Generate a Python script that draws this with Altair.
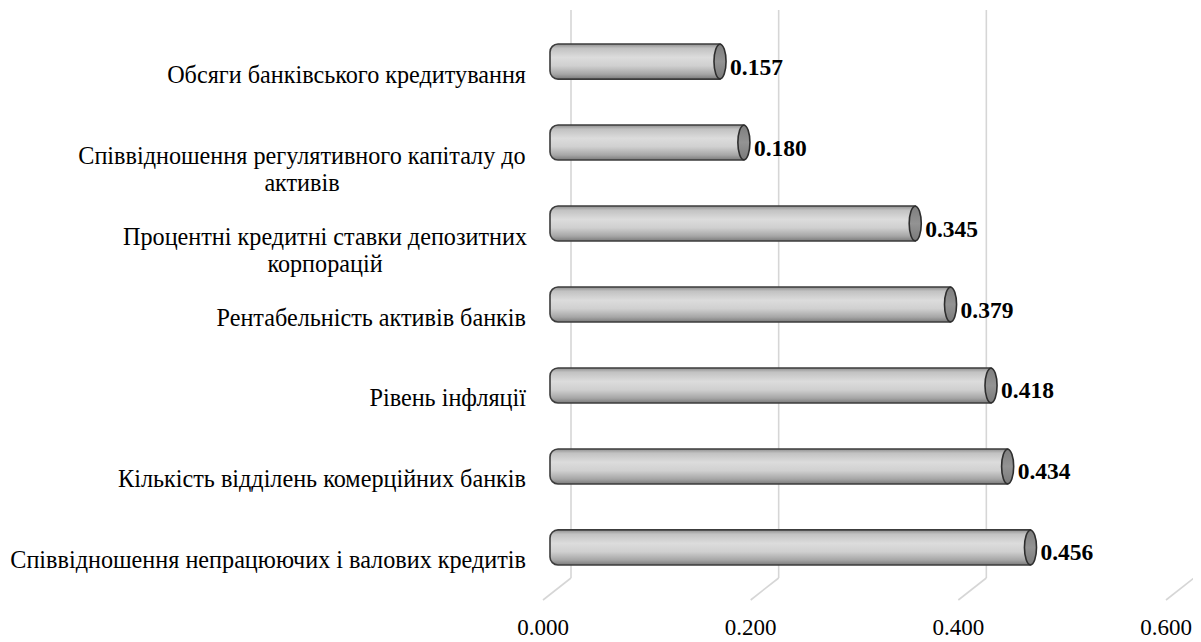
import altair as alt
import pandas as pd

categories = [
    "Обсяги банківського кредитування",
    "Співвідношення регулятивного капіталу до активів",
    "Процентні кредитні ставки депозитних корпорацій",
    "Рентабельність активів банків",
    "Рівень інфляції",
    "Кількість відділень комерційних банків",
    "Співвідношення непрацюючих і валових кредитів",
]
label_line1 = [
    "Обсяги банківського кредитування",
    "Співвідношення регулятивного капіталу до",
    "Процентні кредитні ставки депозитних",
    "Рентабельність активів банків",
    "Рівень інфляції",
    "Кількість відділень комерційних банків",
    "Співвідношення непрацюючих і валових кредитів",
]
label_line2 = ["", "активів", "корпорацій", "", "", "", ""]
values = [0.157, 0.180, 0.345, 0.379, 0.418, 0.434, 0.456]
value_labels = ["0.157", "0.180", "0.345", "0.379", "0.418", "0.434", "0.456"]
ticks = [0.0, 0.2, 0.4, 0.6]
tick_labels = ["0.000", "0.200", "0.400", "0.600"]

df = pd.DataFrame({
    "category": categories,
    "line1": label_line1,
    "line2": label_line2,
    "full": [a + ("\n" + b if b else "") for a, b in zip(label_line1, label_line2)],
    "value": values,
    "vlabel": value_labels,
})
tdf = pd.DataFrame({"tick": ticks, "tlabel": tick_labels})

FONT = "Liberation Serif"
W, H = 623, 589
LFS = 24.2

xs = alt.Scale(domain=[0, 0.6], nice=False, zero=True)
ys = alt.Scale(domain=categories, paddingInner=0.567, paddingOuter=0.42)

base = alt.Chart(df)
tbase = alt.Chart(tdf)

grid_v = tbase.mark_rule(color="#d6d6d6", strokeWidth=1.6, xOffset=14).encode(
    x=alt.X("tick:Q", scale=xs, axis=None),
    y=alt.value(0),
    y2=alt.value(568),
)
grid_s = tbase.mark_rule(color="#d6d6d6", strokeWidth=1.6, xOffset=14, x2Offset=-14).encode(
    x=alt.X("tick:Q", scale=xs, axis=None),
    x2="tick:Q",
    y=alt.value(568),
    y2=alt.value(590),
)
tick_text = tbase.mark_text(font=FONT, fontSize=23, color="#000000", dx=-14,
                            align="center", baseline="middle").encode(
    x=alt.X("tick:Q", scale=xs, axis=None),
    y=alt.value(618),
    text="tlabel:N",
)

grad = alt.Gradient(
    gradient="linear", x1=0, y1=0, x2=0, y2=1,
    stops=[
        alt.GradientStop(offset=0.0, color="#8e8e8e"),
        alt.GradientStop(offset=0.12, color="#c2c2c2"),
        alt.GradientStop(offset=0.38, color="#dcdcdc"),
        alt.GradientStop(offset=0.62, color="#d0d0d0"),
        alt.GradientStop(offset=0.86, color="#a6a6a6"),
        alt.GradientStop(offset=1.0, color="#7a7a7a"),
    ],
)

bars = base.mark_bar(fill=grad, stroke="#3c3c3c", strokeWidth=1.6,
                     cornerRadiusTopLeft=8, cornerRadiusBottomLeft=8,
                     x2Offset=-7).encode(
    y=alt.Y("category:N", scale=ys, axis=None, sort=categories),
    x=alt.X("value:Q", scale=xs, axis=None),
    x2=alt.datum(0),
)

cap_grad = alt.Gradient(
    gradient="linear", x1=0, y1=0, x2=0, y2=1,
    stops=[
        alt.GradientStop(offset=0.0, color="#7e7e7e"),
        alt.GradientStop(offset=0.5, color="#939393"),
        alt.GradientStop(offset=1.0, color="#7a7a7a"),
    ],
)
caps = base.mark_point(
    shape="M0,-1A0.35,1,0,1,1,0,1A0.35,1,0,1,1,0,-1Z",
    size=1190, filled=True, fill=cap_grad, stroke="#2e2e2e", strokeWidth=1.6, opacity=1,
).encode(
    y=alt.Y("category:N", scale=ys, axis=None, sort=categories),
    x=alt.X("value:Q", scale=xs, axis=None),
)

vtext = base.mark_text(font=FONT, fontSize=23.5, fontWeight="bold", color="#000000",
                       align="left", baseline="middle", dx=10, dy=6).encode(
    y=alt.Y("category:N", scale=ys, axis=None, sort=categories),
    x=alt.X("value:Q", scale=xs, axis=None),
    text="vlabel:N",
)

single = base.transform_filter(alt.datum.line2 == "").mark_text(
    font=FONT, fontSize=LFS, color="#000000", align="right", baseline="middle", dy=14
).encode(
    y=alt.Y("category:N", scale=ys, axis=None, sort=categories),
    x=alt.value(-31),
    text="line1:N",
)

two_a = base.transform_filter(alt.datum.category == categories[1]).mark_text(
    font=FONT, fontSize=LFS, color="#000000", align="center", baseline="middle",
    dy=14, lineBreak="\n", lineHeight=27
).encode(
    y=alt.Y("category:N", scale=ys, axis=None, sort=categories),
    x=alt.value(-255),
    text="full:N",
)
two_b = base.transform_filter(alt.datum.category == categories[2]).mark_text(
    font=FONT, fontSize=LFS, color="#000000", align="center", baseline="middle",
    dy=14, lineBreak="\n", lineHeight=27
).encode(
    y=alt.Y("category:N", scale=ys, axis=None, sort=categories),
    x=alt.value(-232),
    text="full:N",
)

chart = alt.layer(
    grid_v, grid_s, tick_text, bars, caps, vtext, single, two_a, two_b
).properties(
    width=W, height=H,
    padding={"left": 549, "top": 2, "right": 13, "bottom": 40},
    autosize=alt.AutoSizeParams(type="none"),
    background="#ffffff",
).configure_view(stroke=None)

chart.save("out.html", embed_options={"renderer": "svg", "actions": False})
